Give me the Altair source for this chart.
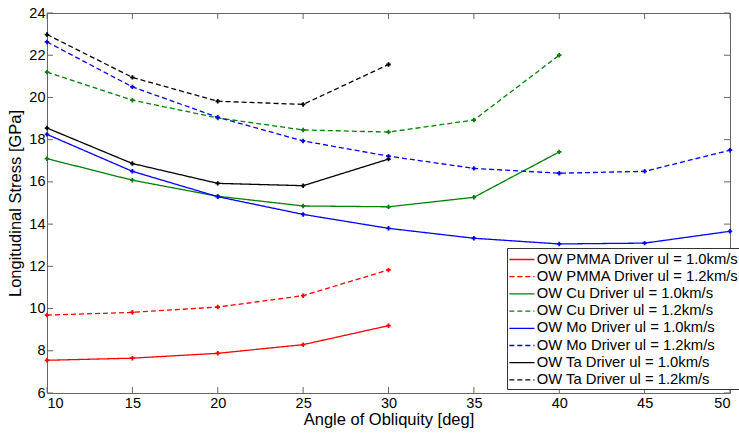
import altair as alt
import pandas as pd

angles_short = [10, 15, 20, 25, 30]
angles_cu = [10, 15, 20, 25, 30, 35, 40]
angles_mo = [10, 15, 20, 25, 30, 35, 40, 45, 50]

pmma_10 = [7.55, 7.65, 7.88, 8.29, 9.19]
pmma_12 = [9.69, 9.82, 10.07, 10.61, 11.83]
cu_10 = [17.1, 16.08, 15.32, 14.86, 14.82, 15.27, 17.42]
cu_12 = [21.2, 19.87, 19.03, 18.46, 18.36, 18.93, 22.0]
mo_10 = [18.25, 16.5, 15.3, 14.46, 13.8, 13.33, 13.06, 13.1, 13.66]
mo_12 = [22.63, 20.5, 19.06, 17.94, 17.22, 16.64, 16.41, 16.5, 17.5]
ta_10 = [18.55, 16.87, 15.93, 15.82, 17.08]
ta_12 = [22.98, 20.95, 19.82, 19.67, 21.56]

names = [
    "OW PMMA Driver ul = 1.0km/s",
    "OW PMMA Driver ul = 1.2km/s",
    "OW Cu Driver ul = 1.0km/s",
    "OW Cu Driver ul = 1.2km/s",
    "OW Mo Driver ul = 1.0km/s",
    "OW Mo Driver ul = 1.2km/s",
    "OW Ta Driver ul = 1.0km/s",
    "OW Ta Driver ul = 1.2km/s",
]
colors = ["#ff0000", "#ff0000", "#008000", "#008000", "#0000ff", "#0000ff", "#000000", "#000000"]
dashes = [[1, 0], [5, 3]] * 4

series = [
    (angles_short, pmma_10), (angles_short, pmma_12),
    (angles_cu, cu_10), (angles_cu, cu_12),
    (angles_mo, mo_10), (angles_mo, mo_12),
    (angles_short, ta_10), (angles_short, ta_12),
]
rows = []
for name, (xs_, ys_) in zip(names, series):
    for x, y in zip(xs_, ys_):
        rows.append({"angle": x, "stress": y, "series": name})
df = pd.DataFrame(rows)

x_ticks = [10, 15, 20, 25, 30, 35, 40, 45, 50]
y_ticks = [6, 8, 10, 12, 14, 16, 18, 20, 22, 24]

W, H = 683, 380
FONT = "Liberation Sans"

xs = alt.Scale(domain=[10, 50], nice=False)
ys = alt.Scale(domain=[6, 24], nice=False)

color_scale = alt.Scale(domain=names, range=colors)
dash_scale = alt.Scale(domain=names, range=dashes)

def make_legend():
    return alt.Legend(
        title=None, orient="none", legendX=460, legendY=235,
        symbolType="M-1.45,0H1.45", symbolSize=300, symbolStrokeWidth=1.3,
        symbolOffset=3.4,
        labelFontSize=14.8, labelFont=FONT, labelColor="#000",
        strokeColor="#333", fillColor="white", padding=2, rowPadding=0.2,
        labelOffset=5.3, labelLimit=400)

lines = alt.Chart(df).mark_line(strokeWidth=1.3).encode(
    x=alt.X("angle:Q", scale=xs,
            axis=alt.Axis(values=x_ticks, title="Angle of Obliquity [deg]", tickSize=0,
                          domain=False, grid=False, labelPadding=3, titlePadding=2)),
    y=alt.Y("stress:Q", scale=ys,
            axis=alt.Axis(values=y_ticks, title="Longitudinal Stress [GPa]", tickSize=0,
                          domain=False, grid=False, labelPadding=2, titlePadding=5)),
    color=alt.Color("series:N", scale=color_scale, legend=make_legend()),
    strokeDash=alt.StrokeDash("series:N", scale=dash_scale, legend=make_legend()),
    detail="series:N",
)

points = alt.Chart(df).mark_point(shape="cross", filled=True, size=20, opacity=1).encode(
    x=alt.X("angle:Q", scale=xs),
    y=alt.Y("stress:Q", scale=ys),
    color=alt.Color("series:N", scale=color_scale, legend=None),
)

xt = pd.DataFrame({"v": x_ticks})
yt = pd.DataFrame({"v": y_ticks})
tick_color = "#666"
bottom_ticks = alt.Chart(xt).mark_rule(color=tick_color).encode(
    x=alt.X("v:Q", scale=xs), y=alt.value(H), y2=alt.value(H - 6))
top_ticks = alt.Chart(xt).mark_rule(color=tick_color).encode(
    x=alt.X("v:Q", scale=xs), y=alt.value(0), y2=alt.value(6))
left_ticks = alt.Chart(yt).mark_rule(color=tick_color).encode(
    y=alt.Y("v:Q", scale=ys), x=alt.value(0), x2=alt.value(6))
right_ticks = alt.Chart(yt).mark_rule(color=tick_color).encode(
    y=alt.Y("v:Q", scale=ys), x=alt.value(W), x2=alt.value(W - 6))

chart = alt.layer(
    bottom_ticks, top_ticks, left_ticks, right_ticks, lines, points
).properties(
    width=W, height=H,
    background="white",
    autosize=alt.AutoSizeParams(type="none"),
    padding={"left": 47, "top": 13, "right": 9, "bottom": 42},
).configure_view(
    stroke="#666", strokeWidth=1
).configure_axis(
    labelFont=FONT, titleFont=FONT, labelFontSize=14.5, titleFontSize=16.5,
    labelColor="#000", titleColor="#000", titleFontWeight="normal",
)

chart.save("out.html", embed_options={"renderer": "svg", "actions": False})
